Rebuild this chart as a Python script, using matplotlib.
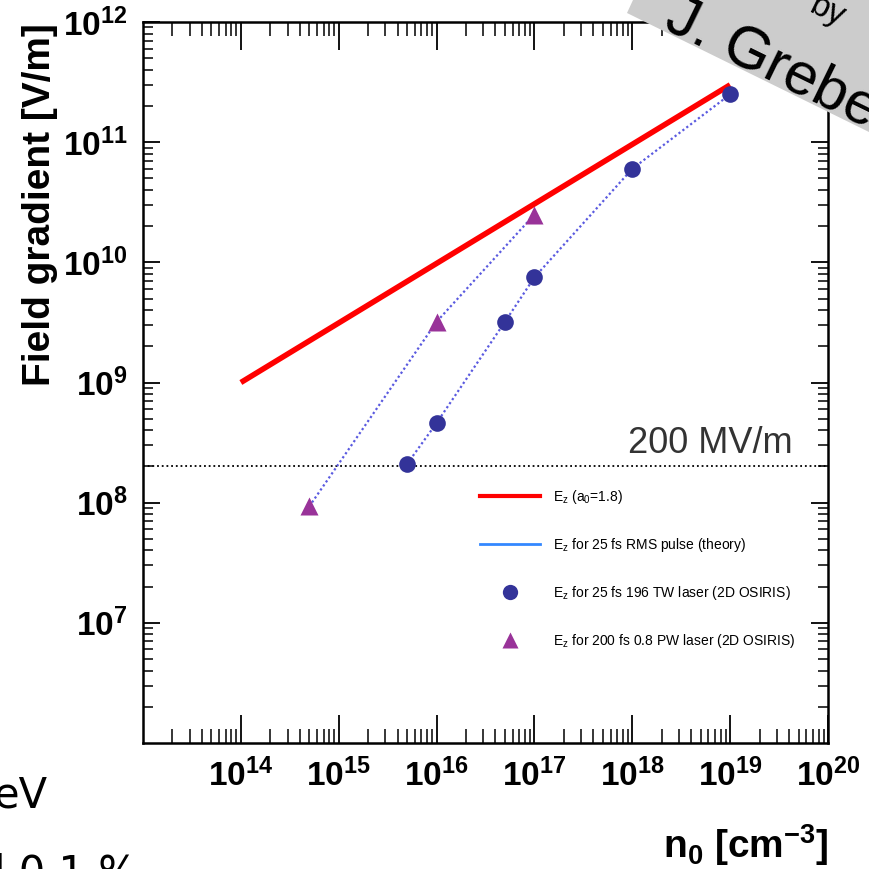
import matplotlib
matplotlib.use("Agg")
import matplotlib.pyplot as plt
from matplotlib.lines import Line2D
from matplotlib.patches import Polygon
from matplotlib.ticker import LogLocator, NullFormatter

plt.rcParams['font.family'] = ['Liberation Sans', 'DejaVu Sans']
plt.rcParams['mathtext.default'] = 'regular'

# theory line, E_z (a0 = 1.8)
theory_n = [1e14, 1e19]
theory_E = [1.0e9, 3.0e11]

# 25 fs 196 TW laser, 2D OSIRIS
tw_n = [5e15, 1e16, 5e16, 1e17, 1e18, 1e19]
tw_E = [2.1e8, 4.6e8, 3.2e9, 7.5e9, 6.0e10, 2.5e11]

# 200 fs 0.8 PW laser, 2D OSIRIS
pw_n = [5e14, 1e16, 1e17]
pw_E = [9.3e7, 3.2e9, 2.5e10]

limit_E = 2e8
xticks = [1e14, 1e15, 1e16, 1e17, 1e18, 1e19, 1e20]
yticks = [1e7, 1e8, 1e9, 1e10, 1e11, 1e12]

fig = plt.figure(figsize=(8.69, 8.69), dpi=100)
ax = fig.add_axes([143/869, 1-743/869, 685/869, 721/869])
ax.set_xscale('log')
ax.set_yscale('log')
ax.set_xlim(1e13, 1e20)
ax.set_ylim(1e6, 1e12)

ax.axhline(limit_E, color='black', lw=1.3, ls=(0, (1, 1.6)))
ax.text(0.949, limit_E*1.12, '200 MV/m', transform=ax.get_yaxis_transform(),
        ha='right', va='bottom', fontsize=26, color='#333333')

ax.plot(theory_n, theory_E, color='#ff0000', lw=4, solid_capstyle='butt', zorder=3)
ax.plot(tw_n, tw_E, color='#5a5ae0', lw=1.6, ls=(0, (1, 1.2)), zorder=2)
ax.plot(pw_n, pw_E, color='#5a5ae0', lw=1.6, ls=(0, (1, 1.2)), zorder=2)
ax.plot(tw_n, tw_E, 'o', color='#333399', ms=12, mec='none', zorder=4)
ax.plot(pw_n, pw_E, '^', color='#993399', ms=13, mec='none', zorder=4)

for s in ax.spines.values():
    s.set_linewidth(1.8)

ax.set_xticks(xticks)
ax.set_yticks(yticks)
ax.xaxis.set_minor_locator(LogLocator(base=10, subs=range(2, 10), numticks=20))
ax.yaxis.set_minor_locator(LogLocator(base=10, subs=range(2, 10), numticks=20))
ax.xaxis.set_minor_formatter(NullFormatter())
ax.yaxis.set_minor_formatter(NullFormatter())
ax.tick_params(axis='x', which='major', direction='in', top=True, length=20, width=1.3,
               labelsize=24, pad=11)
ax.tick_params(axis='x', which='minor', direction='in', top=True, length=10, width=1.1)
ax.tick_params(axis='y', which='major', direction='in', right=True, length=12, width=1.3,
               labelsize=24, pad=11)
ax.tick_params(axis='y', which='minor', direction='in', right=True, length=7, width=1.1)
for lbl in ax.get_xticklabels() + ax.get_yticklabels():
    lbl.set_fontweight('bold')

fig.text(40/869, 1-205/869, 'Field gradient [V/m]', rotation=90, ha='center', va='center',
         fontsize=28, fontweight='bold')
fig.text(828/869, 1-845/869, 'n$_0$ [cm$^{-3}$]', ha='right', va='center',
         fontsize=28, fontweight='bold')

handles = [
    Line2D([], [], color='#ff0000', lw=3),
    Line2D([], [], color='#3388ff', lw=2),
    Line2D([], [], ls='none', marker='o', color='#333399', ms=11, mec='none'),
    Line2D([], [], ls='none', marker='^', color='#993399', ms=11, mec='none'),
]
labels = [
    'E$_z$ (a$_0$=1.8)',
    'E$_z$ for 25 fs RMS pulse (theory)',
    'E$_z$ for 25 fs 196 TW laser (2D OSIRIS)',
    'E$_z$ for 200 fs 0.8 PW laser (2D OSIRIS)',
]
ax.legend(handles, labels, loc='upper left', bbox_to_anchor=(473/869, 1-481/869),
          bbox_transform=fig.transFigure, frameon=False, fontsize=10,
          handlelength=4.3, handletextpad=0.95, labelspacing=2.15, borderpad=0)

# watermark banner and cropped slide text
fig.patches.append(Polygon([(633/869, 1.0), (627/869, 1-13/869), (1.0, 1-132/869), (1.0, 1.0)],
                           closed=True, transform=fig.transFigure, facecolor='#cccccc',
                           edgecolor='none', zorder=5))
fig.text(662/869, 1-28/869, 'J. Grebe', rotation=-26, rotation_mode='anchor',
         ha='left', va='baseline', fontsize=43, zorder=6)
fig.text(808/869, 1-12/869, 'by', rotation=-26, rotation_mode='anchor',
         ha='left', va='baseline', fontsize=24, zorder=6)
fig.text(-6/869, 1-808/869, 'eV', ha='left', va='baseline', fontsize=30,
         family='DejaVu Sans')
fig.text(-6/869, 1-885/869, 'l 0.1 %', ha='left', va='baseline', fontsize=30,
         family='DejaVu Sans')

fig.savefig('out.png', dpi=100)
